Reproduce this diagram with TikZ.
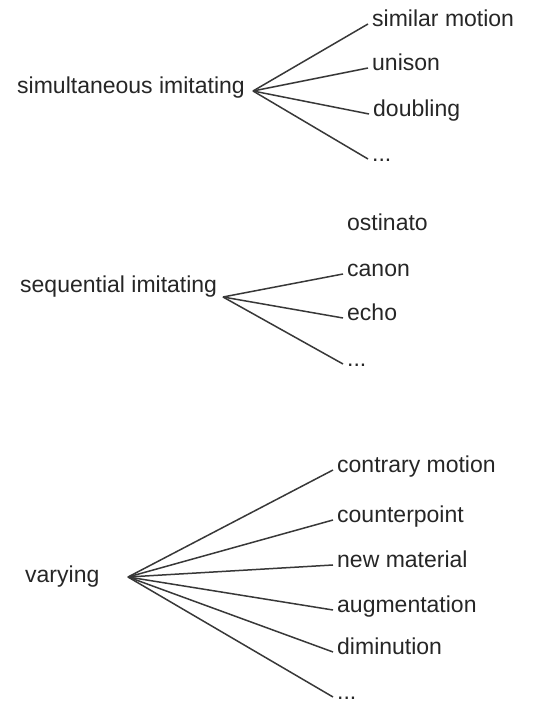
\documentclass[tikz,border=0pt]{standalone}
\usepackage{fontspec}
\setmainfont{Liberation Sans}
\begin{document}
\begin{tikzpicture}[x=1pt,y=1pt,
  lbl/.style={anchor=west, inner xsep=4pt, inner ysep=0pt,
    font=\fontsize{23}{26}\selectfont, text height=0.72em, text depth=0.22em, text=black!85},
  par/.style={lbl},
  edge/.style={draw=black!78, line width=1.5pt}]
\useasboundingbox (0,0) rectangle (550,706);
% group 1
\node[par] (sim) at (13,615) {simultaneous imitating};
\coordinate (h1) at (253,615);
\node[lbl] (simmo) at (368,682) {similar motion};
\node[lbl] (unison) at (368,638) {unison};
\node[lbl] (doubling) at (369,592) {doubling};
\node[lbl] (dotsA) at (368,547) {...};
\foreach \c in {simmo,unison,doubling,dotsA} \draw[edge] (h1) -- (\c.west);
% group 2
\node[par] (seq) at (16,416) {sequential imitating};
\coordinate (h2) at (223,409);
\node[lbl] (ostinato) at (343,478) {ostinato};
\node[lbl] (canon) at (343,432) {canon};
\node[lbl] (echo) at (343,388) {echo};
\node[lbl] (dotsB) at (343,342) {...};
\foreach \c in {canon,echo,dotsB} \draw[edge] (h2) -- (\c.west);
% group 3
\node[par] (varying) at (21,126) {varying};
\coordinate (h3) at (128,129);
\node[lbl] (contrary) at (333,236) {contrary motion};
\node[lbl] (counter) at (333,186) {counterpoint};
\node[lbl] (newmat) at (333,141) {new material};
\node[lbl] (augm) at (333,96) {augmentation};
\node[lbl] (dimin) at (333,54) {diminution};
\node[lbl] (dotsC) at (333,9) {...};
\foreach \c in {contrary,counter,newmat,augm,dimin,dotsC} \draw[edge] (h3) -- (\c.west);
\end{tikzpicture}
\end{document}
